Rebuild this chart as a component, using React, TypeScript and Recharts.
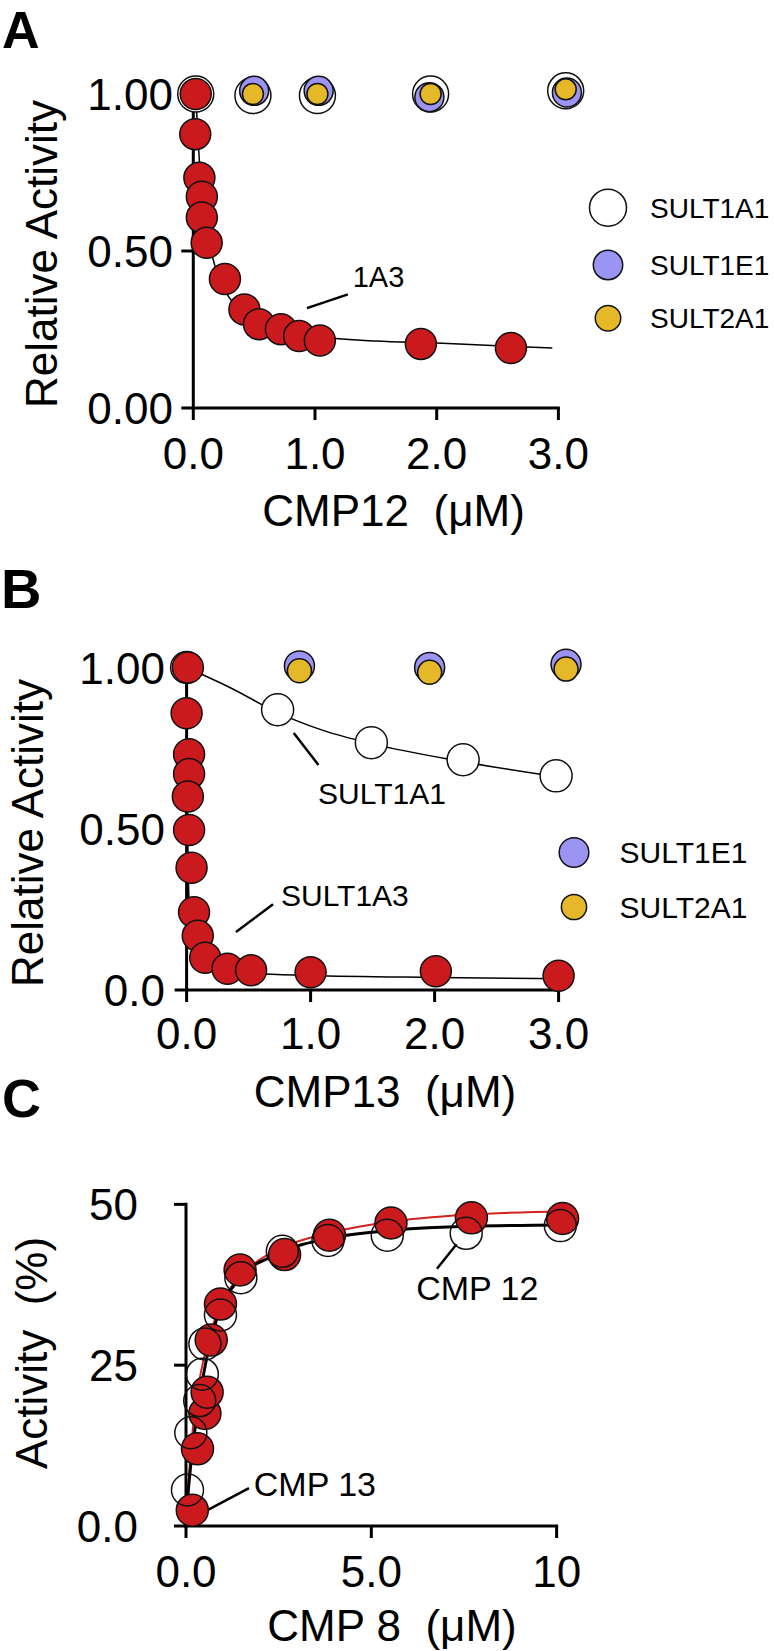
import React from 'react';
import { ComposedChart, Scatter, Line, XAxis, YAxis, ReferenceLine, ReferenceDot, Legend } from 'recharts';

const FONT = '"Liberation Sans", Arial, Helvetica, sans-serif';
const RED = '#CB1A1E';
const BLUE = '#9C94F2';
const GOLD = '#E5B82A';
const SP2 = '\u00A0\u00A0';

// ---- panel A: CMP12 ----
const aX1A3 = [0.02, 0.016, 0.05, 0.07, 0.07, 0.11, 0.26, 0.42, 0.54, 0.72, 0.87, 1.04, 1.87, 2.61];
const aY1A3 = [1.0, 0.872, 0.733, 0.673, 0.607, 0.526, 0.411, 0.314, 0.267, 0.251, 0.229, 0.215, 0.204, 0.191];
const aFitX = [0.02, 0.055, 0.096, 0.137, 0.22, 0.357, 0.49, 0.7, 1.0, 1.5, 2.0, 2.5, 2.95];
const aFitY = [1.0, 0.76, 0.61, 0.514, 0.408, 0.323, 0.29, 0.255, 0.229, 0.213, 0.207, 0.198, 0.191];
const aTopX = [0.02, 0.49, 1.02, 1.95, 3.06];
const aBlueX = [0.02, 0.5, 1.03, 1.94, 3.07];
const a1A1Y = [1.0, 0.995, 0.995, 1.0, 1.01];
const a1E1Y = [1.0, 1.01, 1.01, 0.99, 1.005];
const a2A1Y = [1.0, 1.0, 1.0, 1.0, 1.015];
const aXTicks = [0, 1, 2, 3];
const aXLabels = ['0.0', '1.0', '2.0', '3.0'];
const aYTicks = [0, 0.5, 1];
const aYLabels = ['0.00', '0.50', '1.00'];

// ---- panel B: CMP13 ----
const bX1A3 = [0.01, 0.0, 0.02, 0.02, 0.01, 0.02, 0.04, 0.06, 0.09, 0.15, 0.33, 0.52, 1.0, 2.01, 3.0];
const bY1A3 = [1.0, 0.858, 0.731, 0.67, 0.6, 0.496, 0.379, 0.241, 0.168, 0.1, 0.066, 0.061, 0.055, 0.058, 0.044];
const bFit1A3X = [0, 0.004, 0.01, 0.02, 0.04, 0.087, 0.15, 0.25, 0.5, 1.0, 2.0, 3.05];
const bFit1A3Y = [1.0, 0.7, 0.45, 0.27, 0.17, 0.1, 0.075, 0.062, 0.052, 0.045, 0.039, 0.035];
const b1A1X = [0, 0.734, 1.49, 2.23, 2.98];
const b1A1Y = [1.0, 0.869, 0.767, 0.714, 0.664];
const bFit1A1X = [0, 0.365, 0.734, 1.1, 1.49, 2.23, 3.1];
const bFit1A1Y = [1.0, 0.935, 0.86, 0.805, 0.764, 0.708, 0.655];
const bTopX = [0, 0.91, 1.96, 3.06];
const b1E1Y = [1.0, 1.005, 1.0, 1.01];
const b2A1Y = [1.0, 0.99, 0.985, 0.995];
const bXTicks = [0, 1, 2, 3];
const bXLabels = ['0.0', '1.0', '2.0', '3.0'];
const bYTicks = [0, 0.5, 1];
const bYLabels = ['0.0', '0.50', '1.00'];

// ---- panel C: CMP 8 activation ----
const c13X = [0.17, 0.31, 0.51, 0.57, 0.68, 0.93, 1.46, 2.66, 3.87, 5.53, 7.7, 10.16];
const c13Y = [2.46, 12.0, 17.5, 20.8, 28.9, 34.5, 39.8, 42.2, 45.2, 47.1, 47.9, 47.8];
const c12X = [0.04, 0.13, 0.37, 0.44, 0.51, 0.93, 1.48, 2.6, 3.83, 5.43, 7.56, 10.1];
const c12Y = [5.6, 14.5, 19.5, 23.6, 28.3, 32.8, 38.6, 42.7, 44.4, 45.2, 45.5, 46.7];
const cFit13X = [0, 0.05, 0.15, 0.3, 0.5, 0.8, 1.2, 1.8, 2.6, 3.9, 5.5, 7.6, 10.2];
const cFit13Y = [0, 5, 13, 20.5, 26.5, 32.5, 37, 40.6, 43.3, 45.6, 47.3, 48.4, 48.9];
const cFit12X = [0, 0.05, 0.17, 0.44, 0.84, 1.44, 2.44, 4.03, 5.63, 7.63, 10.2];
const cFit12Y = [0, 4.5, 11.6, 22.5, 32.4, 38.4, 42.2, 44.9, 46.0, 46.6, 46.8];
const cXTicks = [0, 5, 10];
const cXLabels = ['0.0', '5.0', '10'];
const cYTicks = [0, 25, 50];
const cYLabels = ['0.0', '25', '50'];

const pts = (xs: number[], ys: number[]) => xs.map((x, i) => ({ x, y: ys[i] }));

const dot = (r: number, fill: string, sw = 1.5) => (p: any) => (
  <circle cx={p.cx} cy={p.cy} r={r} fill={fill} stroke="#111" strokeWidth={sw} />
);

const xTick = (ticks: number[], labels: string[], baseline: number) => (p: any) => (
  <text x={p.x} y={baseline} textAnchor="middle" fontSize={44} fontFamily={FONT} fill="#000">
    {labels[ticks.indexOf(p.payload.value)]}
  </text>
);

const yTick = (ticks: number[], labels: string[], anchorX: number) => (p: any) => (
  <text x={anchorX} y={p.y + 16} textAnchor="end" fontSize={44} fontFamily={FONT} fill="#000">
    {labels[ticks.indexOf(p.payload.value)]}
  </text>
);

const note = (text: string, size: number) => (p: any) => (
  <text x={p.cx} y={p.cy} fontSize={size} fontFamily={FONT} fill="#000">{text}</text>
);

const tickLine = { stroke: '#000', strokeWidth: 3 };

type Item = { name: string; fill: string; r: number; y: number };
const legendBox = (items: Item[], cx: number, tx: number, w: number, size: number) => () => (
  <svg width={w} height={200} style={{ display: 'block' }}>
    {items.map((it) => (
      <g key={it.name}>
        <circle cx={cx} cy={it.y} r={it.r} fill={it.fill} stroke="#111" strokeWidth={1.5} />
        <text x={tx} y={it.y + size * 0.36} fontSize={size} fontFamily={FONT} fill="#000">{it.name}</text>
      </g>
    ))}
  </svg>
);

const legendA: Item[] = [
  { name: 'SULT1A1', fill: '#fff', r: 18.5, y: 37.7 },
  { name: 'SULT1E1', fill: BLUE, r: 14.7, y: 95 },
  { name: 'SULT2A1', fill: GOLD, r: 12.7, y: 148.3 },
];
const legendB: Item[] = [
  { name: 'SULT1E1', fill: BLUE, r: 14.8, y: 32.5 },
  { name: 'SULT2A1', fill: GOLD, r: 12.6, y: 87 },
];

export default function App() {
  return (
    <div style={{ position: 'absolute', left: 0, top: 0, width: 774, height: 1651, background: '#fff', overflow: 'hidden' }}>
      {/* A */}
      <div style={{ position: 'absolute', left: 0, top: 0 }}>
        <ComposedChart width={774} height={540} margin={{ top: 62.6, right: 179.1, bottom: 72, left: 93.3 }}>
          <XAxis type="number" dataKey="x" domain={[0, 3.3]} ticks={aXTicks} interval={0} axisLine={false}
            tickLine={tickLine} tickSize={12} height={60} tick={xTick(aXTicks, aXLabels, 468.5)} />
          <YAxis type="number" dataKey="y" domain={[0, 1.1]} ticks={aYTicks} interval={0} axisLine={false}
            tickLine={tickLine} tickSize={12} width={100} tick={yTick(aYTicks, aYLabels, 173)} />
          <ReferenceLine segment={[{ x: 0, y: 0 }, { x: 3, y: 0 }]} stroke="#000" strokeWidth={3} strokeLinecap="square" />
          <ReferenceLine segment={[{ x: 0, y: 0 }, { x: 0, y: 1 }]} stroke="#000" strokeWidth={3} strokeLinecap="square" />
          <Scatter data={pts(aTopX, a1A1Y)} shape={dot(18, '#fff')} isAnimationActive={false} />
          <Scatter data={pts(aBlueX, a1E1Y)} shape={dot(14.5, BLUE)} isAnimationActive={false} />
          <Scatter data={pts(aTopX, a2A1Y)} shape={dot(10.5, GOLD)} isAnimationActive={false} />
          <Scatter data={pts(aX1A3, aY1A3)} shape={dot(15.5, RED)} isAnimationActive={false} />
          <Line data={pts(aFitX, aFitY)} dataKey="y" type="monotone" stroke="#000" strokeWidth={1.5} dot={false} isAnimationActive={false} />
          <ReferenceLine segment={[{ x: 0.934, y: 0.318 }, { x: 1.27, y: 0.362 }]} stroke="#000" strokeWidth={2.5} />
          <ReferenceDot x={1.31} y={0.385} r={0} shape={note('1A3', 29)} />
          <Legend layout="vertical" align="center" verticalAlign="middle"
            wrapperStyle={{ left: 580, top: 170, width: 194, height: 200 }} content={legendBox(legendA, 28, 70, 194, 28)} />
        </ComposedChart>
      </div>

      {/* B */}
      <div style={{ position: 'absolute', left: 0, top: 540 }}>
        <ComposedChart width={774} height={580} margin={{ top: 95.25, right: 178.2, bottom: 70, left: 86.6 }}>
          <XAxis type="number" dataKey="x" domain={[0, 3.3]} ticks={bXTicks} interval={0} axisLine={false}
            tickLine={tickLine} tickSize={12} height={60} tick={xTick(bXTicks, bXLabels, 509)} />
          <YAxis type="number" dataKey="y" domain={[0, 1.1]} ticks={bYTicks} interval={0} axisLine={false}
            tickLine={tickLine} tickSize={12} width={100} tick={yTick(bYTicks, bYLabels, 165)} />
          <ReferenceLine segment={[{ x: 0, y: 0 }, { x: 3, y: 0 }]} stroke="#000" strokeWidth={3} strokeLinecap="square" />
          <ReferenceLine segment={[{ x: 0, y: 0 }, { x: 0, y: 1 }]} stroke="#000" strokeWidth={3} strokeLinecap="square" />
          <Scatter data={pts(bTopX, b1E1Y)} shape={dot(15, BLUE)} isAnimationActive={false} />
          <Scatter data={pts(bTopX, b2A1Y)} shape={dot(12, GOLD)} isAnimationActive={false} />
          <Scatter data={pts(b1A1X, b1A1Y)} shape={dot(16, '#fff')} isAnimationActive={false} />
          <Scatter data={pts(bX1A3, bY1A3)} shape={dot(15.5, RED)} isAnimationActive={false} />
          <Line data={pts(bFit1A1X, bFit1A1Y)} dataKey="y" type="monotone" stroke="#000" strokeWidth={1.5} dot={false} isAnimationActive={false} />
          <Line data={pts(bFit1A3X, bFit1A3Y)} dataKey="y" type="monotone" stroke="#000" strokeWidth={1.5} dot={false} isAnimationActive={false} />
          <ReferenceLine segment={[{ x: 0.864, y: 0.797 }, { x: 1.063, y: 0.698 }]} stroke="#000" strokeWidth={2.5} />
          <ReferenceDot x={1.06} y={0.577} r={0} shape={note('SULT1A1', 30)} />
          <ReferenceLine segment={[{ x: 0.398, y: 0.18 }, { x: 0.697, y: 0.266 }]} stroke="#000" strokeWidth={2.5} />
          <ReferenceDot x={0.761} y={0.26} r={0} shape={note('SULT1A3', 30)} />
          <Legend layout="vertical" align="center" verticalAlign="middle"
            wrapperStyle={{ left: 546, top: 280, width: 214, height: 200 }} content={legendBox(legendB, 28, 73.5, 214, 30)} />
        </ComposedChart>
      </div>

      {/* C */}
      <div style={{ position: 'absolute', left: 0, top: 1120 }}>
        <ComposedChart width={774} height={531} margin={{ top: 52.2, right: 180.3, bottom: 65, left: 86 }}>
          <XAxis type="number" dataKey="x" domain={[0, 11]} ticks={cXTicks} interval={0} axisLine={false}
            tickLine={tickLine} tickSize={12} height={60} tick={xTick(cXTicks, cXLabels, 466.6)} />
          <YAxis type="number" dataKey="y" domain={[0, 55]} ticks={cYTicks} interval={0} axisLine={false}
            tickLine={tickLine} tickSize={12} width={100} tick={yTick(cYTicks, cYLabels, 138)} />
          <ReferenceLine segment={[{ x: 0, y: 0 }, { x: 10, y: 0 }]} stroke="#000" strokeWidth={3} strokeLinecap="square" />
          <ReferenceLine segment={[{ x: 0, y: 0 }, { x: 0, y: 50 }]} stroke="#000" strokeWidth={3} strokeLinecap="square" />
          <Scatter data={pts(c13X, c13Y)} shape={dot(16, RED)} isAnimationActive={false} />
          <Scatter data={pts(c12X, c12Y)} shape={(p: any) => <circle cx={p.cx} cy={p.cy} r={16} fill="none" stroke="#111" strokeWidth={1.5} />} isAnimationActive={false} />
          <Line data={pts(cFit13X, cFit13Y)} dataKey="y" type="monotone" stroke="#D42020" strokeWidth={2} dot={false} isAnimationActive={false} />
          <Line data={pts(cFit12X, cFit12Y)} dataKey="y" type="monotone" stroke="#000" strokeWidth={3} dot={false} isAnimationActive={false} />
          <ReferenceLine segment={[{ x: 6.77, y: 40.0 }, { x: 7.3, y: 43.8 }]} stroke="#000" strokeWidth={2.5} />
          <ReferenceDot x={6.21} y={35.1} r={0} shape={note('CMP 12', 34)} />
          <ReferenceLine segment={[{ x: 0.567, y: 2.42 }, { x: 1.7, y: 5.9 }]} stroke="#000" strokeWidth={2.5} />
          <ReferenceDot x={1.83} y={4.66} r={0} shape={note('CMP 13', 34)} />
        </ComposedChart>
      </div>

      {/* panel letters and axis titles */}
      <svg width={774} height={1651} style={{ position: 'absolute', left: 0, top: 0, pointerEvents: 'none' }}
        fontFamily={FONT} fill="#000">
        <text x={2} y={47.5} fontSize={52} fontWeight="bold">A</text>
        <text x={1} y={608} fontSize={56} fontWeight="bold">B</text>
        <text x={2} y={1117} fontSize={54} fontWeight="bold">C</text>
        <g fontSize={44}>
          <text x={393.6} y={526} textAnchor="middle">{`CMP12${SP2}(μM)`}</text>
          <text x={56.5} y={254} textAnchor="middle" transform="rotate(-90 56.5 254)">Relative Activity</text>
          <text x={385} y={1107} textAnchor="middle">{`CMP13${SP2}(μM)`}</text>
          <text x={43} y={833} textAnchor="middle" transform="rotate(-90 43 833)">Relative Activity</text>
          <text x={392} y={1641} textAnchor="middle">{`CMP 8${SP2}(μM)`}</text>
          <text x={46.5} y={1353} textAnchor="middle" transform="rotate(-90 46.5 1353)">{`Activity${SP2}(%)`}</text>
        </g>
      </svg>
    </div>
  );
}
